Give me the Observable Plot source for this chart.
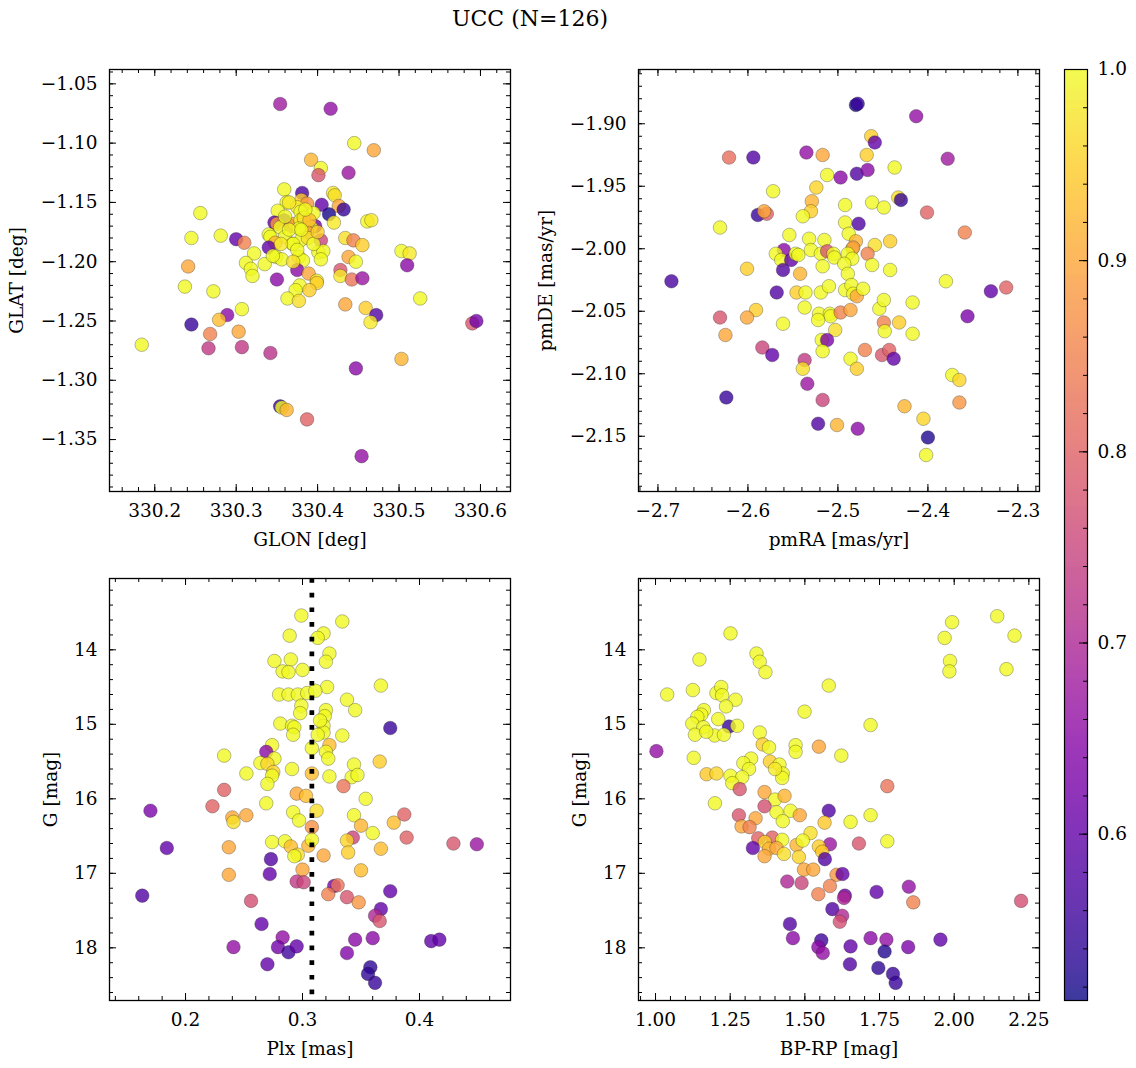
<!DOCTYPE html>
<html><head><meta charset="utf-8">
<script src="https://cdn.jsdelivr.net/npm/d3@7"></script>
<script src="https://cdn.jsdelivr.net/npm/@observablehq/plot@0.6"></script>
<style>
body{margin:0;background:#fff;}
#fig{position:relative;width:1136px;height:1068px;font-family:"DejaVu Serif",serif;color:#000;}
#fig svg{position:absolute;overflow:visible;font-family:"DejaVu Serif",serif !important;}
#fig svg text{font-family:"DejaVu Serif",serif !important;}
#title{position:absolute;top:6px;left:530px;transform:translateX(-50%);font-size:22px;white-space:nowrap;font-family:"DejaVu Serif",serif;}
</style></head><body>
<div id="fig"><div id="title">UCC (N=126)</div></div>
<script>
// ---------- Panel 1: GLON vs GLAT ----------
const glon = [
330.354,330.416,330.445,330.469,330.392,330.404,330.401,330.438,330.359,330.381,
330.419,330.421,330.362,330.380,330.387,330.405,330.426,330.432,330.351,330.375,
330.379,330.395,330.414,330.420,330.347,330.359,330.350,330.354,330.367,330.372,
330.379,330.383,330.397,330.392,330.387,330.377,330.461,330.466,330.256,330.245,
330.281,330.300,330.310,330.340,330.342,330.360,330.348,330.340,330.369,330.379,
330.404,330.434,330.444,330.455,330.503,330.513,330.510,330.241,330.322,330.312,
330.335,330.349,330.356,330.377,330.382,330.401,330.407,330.404,330.438,330.447,
330.375,330.428,330.389,330.318,330.350,330.399,330.428,330.442,330.455,330.320,
330.237,330.272,330.378,330.373,330.399,330.363,330.377,330.390,330.526,330.307,
330.289,330.279,330.245,330.434,330.459,330.472,330.465,330.590,330.595,330.184,
330.268,330.303,330.266,330.307,330.342,330.503,330.447,330.354,330.356,330.362,
330.387,330.454,330.365,330.370,330.388,330.360,330.390,330.375,330.385,330.355,
330.395,330.370,330.380,330.365,330.400,330.345];
const glat = [
-1.067,-1.071,-1.100,-1.106,-1.114,-1.121,-1.127,-1.125,-1.139,-1.142,
-1.142,-1.144,-1.150,-1.148,-1.151,-1.152,-1.153,-1.156,-1.157,-1.154,
-1.158,-1.159,-1.160,-1.167,-1.167,-1.165,-1.168,-1.171,-1.170,-1.168,
-1.165,-1.163,-1.170,-1.171,-1.175,-1.172,-1.166,-1.165,-1.159,-1.180,
-1.178,-1.181,-1.184,-1.177,-1.179,-1.179,-1.184,-1.188,-1.185,-1.182,
-1.182,-1.180,-1.182,-1.186,-1.191,-1.193,-1.203,-1.204,-1.193,-1.201,
-1.202,-1.196,-1.198,-1.196,-1.199,-1.192,-1.191,-1.198,-1.196,-1.200,
-1.207,-1.207,-1.210,-1.206,-1.215,-1.216,-1.212,-1.215,-1.214,-1.212,
-1.221,-1.225,-1.220,-1.224,-1.218,-1.231,-1.233,-1.224,-1.231,-1.240,
-1.245,-1.249,-1.253,-1.236,-1.239,-1.245,-1.251,-1.252,-1.250,-1.270,
-1.261,-1.259,-1.273,-1.272,-1.277,-1.282,-1.290,-1.322,-1.323,-1.325,
-1.333,-1.364,-1.173,-1.185,-1.180,-1.162,-1.165,-1.190,-1.156,-1.185,
-1.185,-1.200,-1.173,-1.150,-1.175,-1.195];
const probA = [
0.68,0.66,1.0,0.9,0.92,1.0,0.78,0.67,1.0,0.57,
0.98,0.97,1.0,0.95,0.88,0.6,0.9,0.55,1.0,0.98,
1.0,1.0,0.52,0.98,0.6,0.6,0.88,1.0,0.8,0.9,
1.0,0.97,0.62,1.0,0.9,1.0,1.0,0.98,1.0,1.0,
1.0,0.6,0.85,1.0,1.0,1.0,0.92,0.6,1.0,1.0,
0.75,0.97,0.85,0.95,1.0,0.98,0.65,0.9,1.0,1.0,
1.0,1.0,1.0,1.0,1.0,1.0,1.0,1.0,0.9,1.0,
0.65,0.78,0.9,1.0,0.65,0.98,0.98,0.83,0.67,1.0,
1.0,1.0,1.0,1.0,0.95,1.0,0.97,0.95,1.0,1.0,
0.65,0.93,0.55,0.9,0.95,0.58,0.98,0.78,0.62,1.0,
0.85,0.9,0.73,0.73,0.72,0.92,0.65,0.55,1.0,0.92,
0.8,0.66,1.0,1.0,0.97,1.0,0.93,1.0,1.0,0.98,
1.0,0.97,1.0,0.98,0.95,1.0];

// ---------- Panel 2: pmRA vs pmDE ----------
const pmra = [
-2.480,-2.478,-2.413,-2.463,-2.459,-2.621,-2.594,-2.535,-2.517,-2.468,
-2.378,-2.512,-2.497,-2.479,-2.467,-2.437,-2.572,-2.524,-2.529,-2.530,
-2.539,-2.492,-2.462,-2.449,-2.433,-2.430,-2.589,-2.579,-2.582,-2.401,
-2.631,-2.492,-2.477,-2.359,-2.554,-2.532,-2.515,-2.488,-2.480,-2.459,
-2.442,-2.560,-2.569,-2.563,-2.552,-2.547,-2.544,-2.530,-2.519,-2.512,
-2.505,-2.504,-2.484,-2.483,-2.489,-2.484,-2.467,-2.493,-2.462,-2.442,
-2.601,-2.561,-2.542,-2.517,-2.489,-2.685,-2.380,-2.568,-2.546,-2.536,
-2.519,-2.492,-2.485,-2.483,-2.479,-2.472,-2.330,-2.313,-2.537,-2.591,
-2.601,-2.631,-2.625,-2.521,-2.509,-2.508,-2.497,-2.486,-2.522,-2.561,
-2.454,-2.449,-2.417,-2.449,-2.448,-2.432,-2.417,-2.356,-2.503,-2.518,
-2.512,-2.517,-2.584,-2.573,-2.470,-2.451,-2.443,-2.438,-2.537,-2.486,
-2.479,-2.539,-2.534,-2.624,-2.517,-2.373,-2.365,-2.365,-2.426,-2.405,
-2.522,-2.501,-2.478,-2.400,-2.402,-2.510];
const pmde = [
-1.885,-1.884,-1.894,-1.910,-1.915,-1.927,-1.927,-1.923,-1.925,-1.925,
-1.928,-1.941,-1.943,-1.940,-1.937,-1.935,-1.954,-1.951,-1.962,-1.970,
-1.974,-1.965,-1.963,-1.967,-1.959,-1.961,-1.973,-1.972,-1.970,-1.971,
-1.983,-1.979,-1.980,-1.987,-1.989,-1.992,-1.993,-1.988,-1.994,-1.997,
-1.994,-2.001,-2.004,-2.009,-2.009,-2.004,-2.005,-2.001,-2.004,-2.002,
-2.004,-2.007,-2.000,-1.999,-2.004,-2.008,-2.004,-2.012,-2.013,-2.017,
-2.016,-2.017,-2.020,-2.014,-2.020,-2.026,-2.026,-2.035,-2.035,-2.035,
-2.035,-2.033,-2.029,-2.036,-2.038,-2.032,-2.034,-2.031,-2.047,-2.049,
-2.055,-2.055,-2.069,-2.052,-2.052,-2.054,-2.051,-2.049,-2.057,-2.060,
-2.048,-2.041,-2.043,-2.059,-2.066,-2.059,-2.068,-2.054,-2.065,-2.073,
-2.073,-2.082,-2.079,-2.085,-2.081,-2.085,-2.081,-2.088,-2.089,-2.088,
-2.096,-2.096,-2.108,-2.119,-2.121,-2.101,-2.105,-2.123,-2.126,-2.136,
-2.140,-2.141,-2.144,-2.151,-2.165,-2.030];
const probB = [
0.52,0.55,0.66,0.95,0.6,0.82,0.58,0.66,0.9,0.95,
0.68,1.0,0.65,0.58,0.65,1.0,1.0,0.96,0.92,0.95,
1.0,1.0,1.0,1.0,0.97,0.55,0.55,0.8,0.9,0.8,
1.0,1.0,0.58,0.85,1.0,1.0,1.0,1.0,0.92,0.97,
0.95,0.65,1.0,1.0,0.6,1.0,1.0,1.0,1.0,0.78,
1.0,1.0,1.0,0.88,1.0,1.0,0.85,1.0,1.0,1.0,
0.95,0.58,0.92,1.0,1.0,0.57,1.0,0.58,0.95,1.0,
1.0,1.0,1.0,1.0,0.9,1.0,0.6,0.8,1.0,0.95,
0.9,0.78,0.9,1.0,1.0,1.0,0.85,0.9,1.0,1.0,
1.0,1.0,1.0,0.85,1.0,0.95,1.0,0.63,0.97,1.0,
0.63,1.0,0.75,0.6,0.85,0.78,0.8,0.6,0.73,1.0,
0.95,0.97,0.67,0.55,0.75,1.0,0.96,0.88,0.92,0.96,
0.58,0.92,0.65,0.53,1.0,1.0];

// ---------- Panel 3: Plx vs G ----------
const plx = [
0.299,0.334,0.289,0.318,0.313,0.323,0.320,0.276,0.290,0.283,
0.288,0.300,0.367,0.321,0.280,0.288,0.296,0.304,0.311,0.338,
0.345,0.299,0.298,0.320,0.319,0.281,0.291,0.293,0.292,0.318,
0.318,0.313,0.375,0.334,0.274,0.269,0.323,0.320,0.322,0.308,
0.233,0.276,0.264,0.270,0.344,0.366,0.291,0.275,0.274,0.252,
0.308,0.323,0.342,0.347,0.270,0.335,0.233,0.170,0.223,0.240,
0.241,0.252,0.269,0.295,0.303,0.312,0.292,0.297,0.308,0.354,
0.344,0.350,0.378,0.387,0.360,0.343,0.338,0.389,0.429,0.449,
0.184,0.237,0.274,0.285,0.290,0.296,0.293,0.305,0.308,0.318,
0.339,0.367,0.273,0.272,0.237,0.300,0.350,0.295,0.301,0.327,
0.330,0.322,0.338,0.348,0.375,0.163,0.256,0.367,0.362,0.366,
0.265,0.283,0.279,0.288,0.295,0.241,0.270,0.345,0.360,0.338,
0.410,0.417,0.358,0.356,0.362,0.315];
const gmagC = [
13.54,13.62,13.81,13.78,13.84,14.05,14.16,14.15,14.13,14.29,
14.30,14.27,14.48,14.50,14.60,14.60,14.60,14.58,14.55,14.67,
14.81,14.75,14.85,14.81,14.89,14.99,15.02,15.04,15.14,15.02,
15.11,15.14,15.05,15.15,15.28,15.37,15.28,15.37,15.46,15.32,
15.42,15.46,15.52,15.53,15.54,15.50,15.60,15.64,15.69,15.66,
15.66,15.70,15.71,15.68,15.80,15.83,15.88,16.16,16.10,16.25,
16.31,16.22,16.06,15.93,15.96,16.16,16.18,16.29,16.38,16.00,
16.22,16.36,16.32,16.21,16.46,16.52,16.56,16.52,16.60,16.61,
16.66,16.65,16.58,16.57,16.64,16.75,16.77,16.63,16.55,16.76,
16.72,16.67,16.81,17.01,17.02,16.95,16.96,17.11,17.12,17.17,
17.16,17.28,17.32,17.39,17.24,17.30,17.37,17.48,17.57,17.64,
17.68,17.86,17.99,18.06,17.98,17.99,18.22,17.89,17.87,18.07,
17.91,17.89,18.26,18.35,18.47,14.95];
const probC = [
1,1,1,1,1,1,1,1,1,1,
1,1,1,1,1,1,1,1,1,1,
1,1,1,1,1,1,1,1,1,1,
1,1,0.55,1,1,0.65,0.93,1,1,1,
1,1,1,0.96,1,0.95,1,0.96,1,1,
0.93,1,1,1,1,0.83,0.8,0.63,0.8,0.9,
0.97,0.9,1,0.9,0.93,0.97,1,1,0.87,1,
1,0.92,0.93,0.8,1,0.75,0.96,0.8,0.78,0.67,
0.6,0.9,1,1,0.93,0.97,1,0.92,1,0.9,
0.95,0.93,0.58,0.6,0.9,0.9,0.93,0.73,0.75,0.63,
0.83,0.85,0.78,0.88,0.6,0.58,0.77,0.6,0.7,0.78,
0.6,0.66,0.62,0.56,0.6,0.66,0.6,0.65,0.65,0.64,
0.6,0.6,0.54,0.54,0.55,1];
const plxLine = [0.308];

// ---------- Panel 4: BP-RP vs G ----------
const bprp = [
2.144,1.993,2.202,1.968,1.986,1.984,2.175,1.251,1.147,1.338,
1.349,1.368,1.039,1.125,1.204,1.220,1.223,1.268,1.236,1.580,
1.499,1.162,1.153,1.140,1.123,1.160,1.132,1.246,1.273,1.198,
1.229,1.720,1.349,1.003,1.359,1.380,1.469,1.469,1.547,1.128,
1.622,1.320,1.294,1.313,1.383,1.415,1.426,1.424,1.171,1.204,
1.251,1.290,1.257,1.282,1.365,1.776,1.199,1.400,1.432,1.365,
1.405,1.452,1.483,1.580,1.279,1.335,1.426,1.566,1.653,1.720,
1.288,1.315,1.519,1.344,1.391,1.366,1.424,1.472,1.493,1.584,
1.681,1.776,1.326,1.380,1.405,1.430,1.365,1.480,1.547,1.558,
1.567,1.497,1.528,1.606,1.626,1.441,1.489,1.584,1.545,1.634,
1.631,1.740,1.848,1.863,2.224,1.592,1.625,1.617,1.450,1.460,
1.555,1.545,1.560,1.653,1.720,1.773,1.767,1.846,1.954,1.651,
1.746,1.795,1.804,1.210,1.170,1.400];
const gmagD = [
13.55,13.63,13.81,13.84,14.15,14.29,14.26,13.78,14.13,14.05,
14.16,14.30,14.60,14.54,14.58,14.50,14.61,14.67,14.76,14.48,
14.83,14.81,14.87,14.90,14.99,15.04,15.14,15.03,15.02,15.15,
15.14,15.01,15.11,15.36,15.27,15.31,15.28,15.37,15.30,15.45,
15.42,15.46,15.52,15.60,15.50,15.54,15.66,15.72,15.67,15.66,
15.69,15.71,15.79,15.87,15.91,15.83,16.06,16.01,15.96,16.10,
16.18,16.16,16.22,16.16,16.22,16.26,16.30,16.32,16.31,16.22,
16.37,16.38,16.46,16.53,16.52,16.58,16.55,16.62,16.56,16.61,
16.60,16.57,16.66,16.67,16.66,16.74,16.77,16.78,16.64,16.71,
16.81,16.95,16.95,17.02,17.01,17.11,17.13,17.17,17.28,17.30,
17.33,17.25,17.18,17.39,17.37,17.48,17.57,17.65,17.68,17.87,
17.90,17.99,18.07,17.98,17.87,17.89,18.05,17.99,17.89,18.22,
18.27,18.35,18.47,14.93,15.10,15.60];
const probD = [
1,1,1,1,1,1,1,1,1,1,
1,1,1,1,1,1,1,1,1,1,
1,1,1,1,1,1,1,0.55,1,1,
1,1,1,0.66,0.95,1,1,1,0.9,1,
1,1,1,1,0.95,1,1,1,0.94,0.96,
1,1,1,0.78,0.9,0.83,1,1,0.92,0.77,
1,1,0.9,0.58,0.78,0.9,1,0.94,1,1,
0.9,0.85,0.97,0.8,0.8,0.95,1,0.92,1,0.67,
0.78,1,0.6,0.92,0.9,0.97,0.9,0.96,0.95,0.94,
0.58,0.9,0.9,0.88,0.6,0.7,0.75,0.85,0.85,0.62,
0.7,0.6,0.66,0.85,0.77,0.58,0.7,0.77,0.58,0.65,
0.56,0.65,0.66,0.6,0.65,0.66,0.53,0.63,0.6,0.58,
0.54,0.55,0.55,1,1,0.98];

// ---------- ticks ----------
const glonTicks = [330.2,330.3,330.4,330.5,330.6];
const glatTicks = [-1.35,-1.30,-1.25,-1.20,-1.15,-1.10,-1.05];
const pmraTicks = [-2.7,-2.6,-2.5,-2.4,-2.3];
const pmdeTicks = [-2.15,-2.10,-2.05,-2.00,-1.95,-1.90];
const plxTicks = [0.2,0.3,0.4];
const gTicks = [14,15,16,17,18];
const bprpTicks = [1.00,1.25,1.50,1.75,2.00,2.25];
const cbTicks = [0.6,0.7,0.8,0.9,1.0];
const PMIN = 0.513, PMAX = 1.0;

const FS = "18.5px";
const FONT = "DejaVu Serif";
const W = 401, H = 422, ML = 100, MR = 20, MT = 10, MB = 70;
const fig = document.getElementById("fig");

function ticksIn(lo, hi, step) {
  const a = [];
  for (let k = Math.ceil(lo / step - 1e-6); k <= Math.floor(hi / step + 1e-6); k++) a.push(+(k * step).toFixed(6));
  return a;
}

function panel(o) {
  const n = Math.min(o.xs.length, o.ys.length, o.ps.length);
  if (o.xs.length !== o.ys.length || o.xs.length !== o.ps.length) console.error("length mismatch", o.xLabel, o.xs.length, o.ys.length, o.ps.length);
  const data = d3.range(n).map(i => ({x: o.xs[i], y: o.ys[i], p: o.ps[i]}));
  const yLo = Math.min(...o.yDomain), yHi = Math.max(...o.yDomain);
  const xMinor = ticksIn(o.xDomain[0], o.xDomain[1], o.xMinorStep);
  const yMinor = ticksIn(yLo, yHi, o.yMinorStep);
  const tk = {stroke: "black", strokeWidth: 1};
  const svg = Plot.plot({
    width: ML + W + MR, height: MT + H + MB,
    marginLeft: ML, marginRight: MR, marginTop: MT, marginBottom: MB,
    style: `font-family: 'DejaVu Serif', serif; font-size: ${FS}; color: black; background: transparent; overflow: visible;`,
    x: {domain: o.xDomain},
    y: {domain: [yLo, yHi], reverse: !!o.yReverse},
    color: {type: "linear", scheme: "plasma", domain: [PMIN, PMAX]},
    marks: [
      Plot.dot(data, {x: "x", y: "y", fill: "p", r: 6.8, fillOpacity: 0.8, stroke: "#1a1a1a", strokeOpacity: 0.5, strokeWidth: 0.6}),
      ...(o.after || []),
      Plot.ruleX(o.xTicks, {x: d => d, insetTop: H - 7, ...tk}),
      Plot.ruleX(o.xTicks, {x: d => d, insetBottom: H - 7, ...tk}),
      Plot.ruleX(xMinor, {x: d => d, insetTop: H - 4, ...tk}),
      Plot.ruleX(xMinor, {x: d => d, insetBottom: H - 4, ...tk}),
      Plot.ruleY(o.yTicks, {y: d => d, insetRight: W - 7, ...tk}),
      Plot.ruleY(o.yTicks, {y: d => d, insetLeft: W - 7, ...tk}),
      Plot.ruleY(yMinor, {y: d => d, insetRight: W - 4, ...tk}),
      Plot.ruleY(yMinor, {y: d => d, insetLeft: W - 4, ...tk}),
      Plot.frame({stroke: "black", strokeWidth: 1.3}),
      Plot.axisX({ticks: o.xTicks, tickSize: 0, tickPadding: 12, tickFormat: o.xFmt, fontFamily: FONT, fontVariant: "normal", label: o.xLabel, labelAnchor: "center", labelArrow: "none", labelOffset: 54}),
      Plot.axisY({ticks: o.yTicks, tickSize: 0, tickPadding: 12, tickFormat: o.yFmt, fontFamily: FONT, fontVariant: "normal", label: o.yLabel, labelAnchor: "center", labelArrow: "none", labelOffset: o.yLabelOffset})
    ]
  });
  svg.style.left = o.left + "px";
  svg.style.top = o.top + "px";
  svg.style.position = "absolute";
  fig.appendChild(svg);
}

const f1 = d3.format(".1f"), f2 = d3.format(".2f"), f0 = d3.format("d");

panel({xs: glon, ys: glat, ps: probA, xDomain: [330.1444, 330.6369], yDomain: [-1.3938, -1.0379],
  xTicks: glonTicks, yTicks: glatTicks, xMinorStep: 0.02, yMinorStep: 0.01, xFmt: f1, yFmt: f2,
  xLabel: "GLON [deg]", yLabel: "GLAT [deg]", yLabelOffset: 100, left: 109 - ML, top: 69 - MT});

panel({xs: pmra, ys: pmde, ps: probB, xDomain: [-2.7216, -2.276], yDomain: [-2.1942, -1.8566],
  xTicks: pmraTicks, yTicks: pmdeTicks, xMinorStep: 0.02, yMinorStep: 0.01, xFmt: f1, yFmt: f2,
  xLabel: "pmRA [mas/yr]", yLabel: "pmDE [mas/yr]", yLabelOffset: 100, left: 638 - ML, top: 69 - MT});

panel({xs: plx, ys: gmagC, ps: probC, xDomain: [0.135, 0.4778], yDomain: [13.043, 18.707], yReverse: true,
  xTicks: plxTicks, yTicks: gTicks, xMinorStep: 0.02, yMinorStep: 0.2, xFmt: f1, yFmt: f0,
  xLabel: "Plx [mas]", yLabel: "G [mag]", yLabelOffset: 66, left: 109 - ML, top: 578 - MT,
  after: [Plot.ruleX(plxLine, {x: d => d, stroke: "black", strokeWidth: 4.7, strokeDasharray: "4.7,10"})]});

panel({xs: bprp, ys: gmagD, ps: probD, xDomain: [0.943, 2.2856], yDomain: [13.043, 18.707], yReverse: true,
  xTicks: bprpTicks, yTicks: gTicks, xMinorStep: 0.05, yMinorStep: 0.2, xFmt: f2, yFmt: f0,
  xLabel: "BP-RP [mag]", yLabel: "G [mag]", yLabelOffset: 66, left: 638 - ML, top: 578 - MT});

// ---------- colorbar ----------
(function () {
  const CW = 23, CH = 931, cML = 5, cMR = 60, cMT = 10, cMB = 10;
  const nSteps = 240;
  const steps = d3.range(nSteps).map(i => ({y1: PMIN + (PMAX - PMIN) * i / nSteps, y2: PMIN + (PMAX - PMIN) * (i + 1) / nSteps}));
  const minor = ticksIn(0.52, 1.0, 0.02);
  const svg = Plot.plot({
    width: cML + CW + cMR, height: cMT + CH + cMB,
    marginLeft: cML, marginRight: cMR, marginTop: cMT, marginBottom: cMB,
    style: `font-family: 'DejaVu Serif', serif; font-size: ${FS}; color: black; background: transparent; overflow: visible;`,
    y: {domain: [PMIN, PMAX]},
    color: {type: "linear", scheme: "plasma", domain: [PMIN, PMAX]},
    marks: [
      Plot.rect(steps, {y1: "y1", y2: "y2", fill: d => (d.y1 + d.y2) / 2, fillOpacity: 0.8, shapeRendering: "crispEdges"}),
      Plot.ruleY(cbTicks, {y: d => d, insetLeft: CW - 8, stroke: "black", strokeWidth: 1}),
      Plot.ruleY(minor, {y: d => d, insetLeft: CW - 4, stroke: "black", strokeWidth: 1}),
      Plot.frame({stroke: "black", strokeWidth: 1.2}),
      Plot.axisY({anchor: "right", ticks: cbTicks, tickSize: 0, tickPadding: 10, tickFormat: f1, fontFamily: FONT, fontVariant: "normal", label: null})
    ]
  });
  svg.style.left = (1064 - cML) + "px";
  svg.style.top = (69 - cMT) + "px";
  svg.style.position = "absolute";
  fig.appendChild(svg);
})();
</script>
</body></html>
